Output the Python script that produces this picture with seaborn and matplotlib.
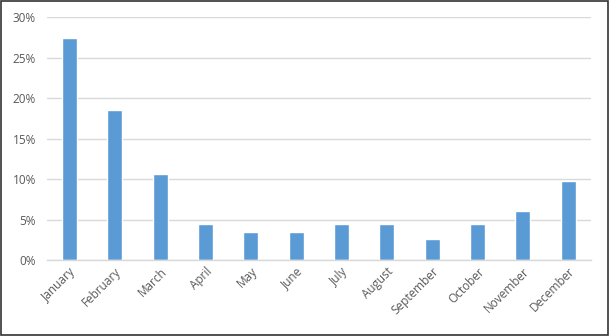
import matplotlib
matplotlib.use("Agg")
import matplotlib.pyplot as plt
import seaborn as sns
import pandas as pd
from matplotlib.ticker import PercentFormatter

months = ["January", "February", "March", "April", "May", "June", "July",
          "August", "September", "October", "November", "December"]
values = [27.4, 18.5, 10.6, 4.4, 3.5, 3.5, 4.4, 4.4, 2.6, 4.4, 6.0, 9.8]
yticks = [0, 5, 10, 15, 20, 25, 30]

df = pd.DataFrame({"month": months, "value": values})

sns.set_theme(style="white")
plt.rcParams["font.family"] = ["Open Sans", "DejaVu Sans"]

fig = plt.figure(figsize=(6.09, 3.36), dpi=100)
ax = fig.add_axes([0.077, 0.226, 0.893, 0.723])

sns.barplot(data=df, x="month", y="value", color="#5B9BD5", saturation=1,
            width=0.33, ax=ax)

ax.set_ylim(0, 30)
ax.set_xlim(-0.5, 11.5)
ax.set_yticks(yticks)
ax.yaxis.set_major_formatter(PercentFormatter(decimals=0))
ax.grid(axis="y", color="#D9D9D9", linewidth=1)
ax.set_axisbelow(True)
for s in ["top", "right", "left"]:
    ax.spines[s].set_visible(False)
ax.spines["bottom"].set_color("#D9D9D9")
ax.spines["bottom"].set_linewidth(1)
ax.set_xlabel("")
ax.set_ylabel("")
ax.tick_params(axis="both", length=0, colors="#595959", labelsize=8.5)
ax.tick_params(axis="y", pad=8)
plt.setp(ax.get_xticklabels(), rotation=45, ha="right", rotation_mode="anchor")

fig.patches.append(plt.Rectangle((0.001, 0.002), 0.997, 0.995, transform=fig.transFigure,
                                 fill=False, edgecolor="#333333", linewidth=1.2))

fig.savefig("out.png", dpi=100)
